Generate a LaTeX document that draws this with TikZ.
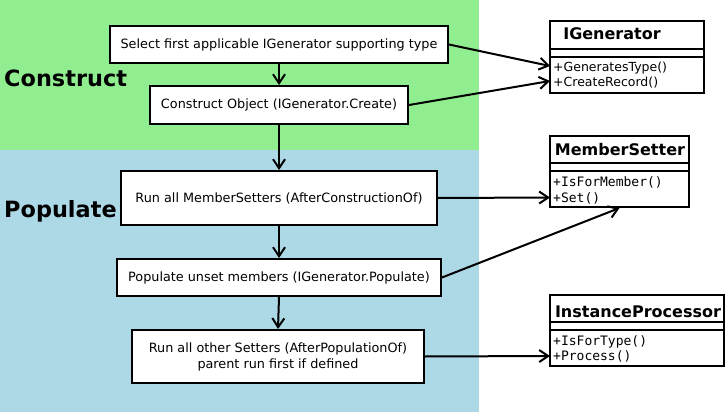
\documentclass[tikz,border=0pt]{standalone}
\usepackage{fontspec}
\setmainfont{DejaVu Sans}
\newfontfamily\monof{DejaVu Sans Mono}
\usetikzlibrary{arrows.meta}
\definecolor{cgreen}{HTML}{90EE90}
\definecolor{cblue}{HTML}{ADD8E6}
\begin{document}
\begin{tikzpicture}[x=1pt,y=-1pt,
  proc/.style={draw, line width=2pt, fill=white, inner sep=0pt, align=center,
    font=\fontsize{12.8}{16}\selectfont},
  uml/.style={draw, line width=2pt, fill=white, inner sep=0pt},
  umltitle/.style={inner sep=0pt, anchor=base, font=\bfseries\fontsize{16}{19}\selectfont},
  meth/.style={inner sep=0pt, anchor=base west, font=\fontsize{12.5}{15}\selectfont},
  mmeth/.style={inner sep=0pt, anchor=base west, font=\monof\fontsize{13}{15}\selectfont},
  phase/.style={inner sep=0pt, anchor=base west, font=\bfseries\fontsize{22.4}{26}\selectfont},
  arr/.style={line width=2pt, -{Straight Barb[length=9pt,width=12pt]}},
  divider/.style={line width=2pt}
]
\useasboundingbox (0,0) rectangle (726,412);
\fill[white] (0,0) rectangle (726,412);
\fill[cgreen] (0,0) rectangle (479,150);
\fill[cblue] (0,150) rectangle (479,412);

% phase labels
\node[phase] (lcons) at (4,86.5) {Construct};
\node[phase] (lpop) at (4,217.3) {Populate};

% process boxes
\node[proc, minimum width=338pt, minimum height=37pt] (sel) at (279,44.5) {Select first applicable IGenerator supporting type};
\node[proc, minimum width=258pt, minimum height=38pt] (con) at (279,105) {Construct Object (IGenerator.Create)};
\node[proc, minimum width=316pt, minimum height=54pt] (ms) at (279,198) {Run all MemberSetters (AfterConstructionOf)};
\node[proc, minimum width=324pt, minimum height=37pt] (pop) at (279,277.5) {Populate unset members (IGenerator.Populate)};
\node[proc, minimum width=292pt, minimum height=53pt] (oth) at (278,356.5) {Run all other Setters (AfterPopulationOf)\\parent run first if defined};

% UML classes
\node[uml, minimum width=154pt, minimum height=72pt] (igen) at (627,57) {};
\draw[divider] (550,49) -- (704,49);
\draw[divider] (550,57) -- (704,57);
\node[umltitle] (igent) at (612,40) {IGenerator};
\node[meth] (igm1) at (553,71.5) {+GeneratesType()};
\node[meth] (igm2) at (553,86.3) {+CreateRecord()};

\node[uml, minimum width=139pt, minimum height=71pt] (mset) at (619.5,171.5) {};
\draw[divider] (550,163) -- (689,163);
\draw[divider] (550,171) -- (689,171);
\node[umltitle] (msett) at (620,155.7) {MemberSetter};
\node[mmeth] (msm1) at (553,186.7) {+IsForMember()};
\node[mmeth] (msm2) at (553,202.2) {+Set()};

\node[uml, minimum width=174pt, minimum height=71pt] (ip) at (637.2,330.5) {};
\draw[divider] (550,322) -- (724.2,322);
\draw[divider] (550,330) -- (724.2,330);
\node[umltitle] (ipt) at (638,317.7) {InstanceProcessor};
\node[mmeth] (ipm1) at (553,345) {+IsForType()};
\node[mmeth] (ipm2) at (553,360.3) {+Process()};

% target coordinates
\coordinate (igA) at (550,66);
\coordinate (igB) at (550,81);
\coordinate (msA) at (550,197.5);
\coordinate (ipA) at (550,356);

% flow arrows
\draw[arr] (sel.south) -- (con.north);
\draw[arr] (con.south) -- (ms.north);
\draw[arr] (ms.south) -- (pop.north);
\draw[arr] (pop.south) -- (oth.north);

% links to classes
\draw[arr] (sel.east) -- (igA);
\draw[arr] (con.east) -- (igB);
\draw[arr] (ms.east) -- (msA);
\draw[arr] (pop.east) -- (mset.south);
\draw[arr] (oth.east) -- (ipA);
\end{tikzpicture}
\end{document}
